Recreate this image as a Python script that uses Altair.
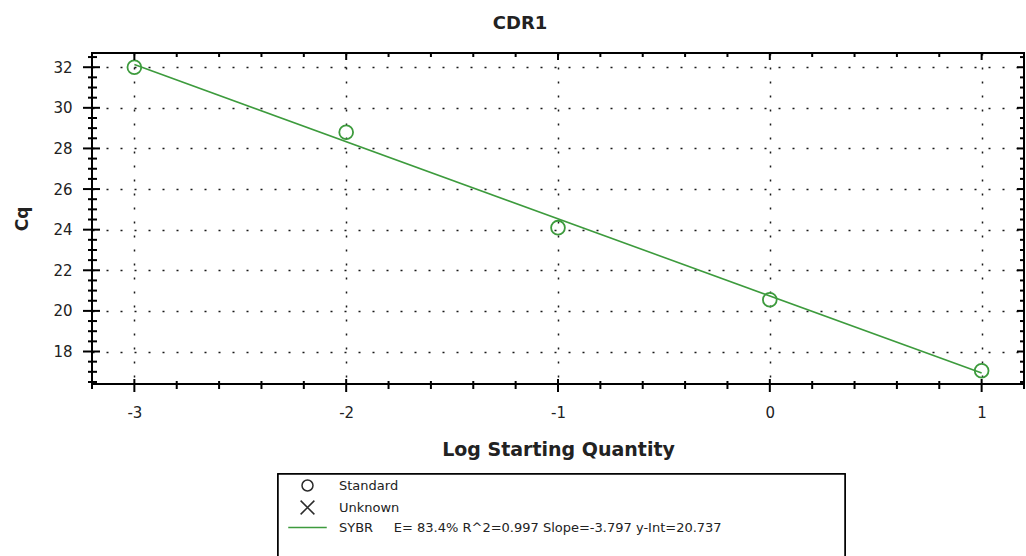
import altair as alt
import pandas as pd

# Standard curve: log starting quantity vs. quantification cycle
log_quantity = [-3, -2, -1, 0, 1]
cq_values = [32.0, 28.8, 24.1, 20.55, 17.05]

# Regression reported for the SYBR run
fit_slope = -3.797
fit_intercept = 20.737
fit_efficiency = 83.4
fit_r2 = 0.997
fit_range = [-3, 1]

# Axis tick positions
x_major = [-3, -2, -1, 0, 1]
x_minor = [-3.2, -2.8, -2.6, -2.4, -2.2, -1.8, -1.6, -1.4, -1.2,
           -0.8, -0.6, -0.4, -0.2, 0.2, 0.4, 0.6, 0.8, 1.2]
y_major = [18, 20, 22, 24, 26, 28, 30, 32]
y_minor = [16.5, 17, 17.5, 18.5, 19, 19.5, 20.5, 21, 21.5, 22.5, 23, 23.5,
           24.5, 25, 25.5, 26.5, 27, 27.5, 28.5, 29, 29.5, 30.5, 31, 31.5, 32.5]

legend_labels = [
    "Standard",
    "Unknown",
    "SYBR\u00a0\u00a0\u00a0\u00a0\u00a0E= %.1f%% R^2=%.3f Slope=%.3f y-Int=%.3f"
    % (fit_efficiency, fit_r2, fit_slope, fit_intercept),
]
legend_shapes = ["circle", "M-1.25,-1.25L1.25,1.25M-1.25,1.25L1.25,-1.25",
                 "M-3.5,0L3.5,0"]
legend_colors = ["#2b2b2b", "#2b2b2b", "#3d9b3d"]

GREEN = "#3d9b3d"
FONT = "DejaVu Sans"
TEXT = "#222222"
W, H = 932, 331
XDOM = [-3.2, 1.2]
YDOM = [16.4, 32.7]

points = pd.DataFrame({"lq": log_quantity, "cq": cq_values})
fit = pd.DataFrame({"lq": fit_range,
                    "cq": [fit_intercept + fit_slope * v for v in fit_range]})
legend_df = pd.DataFrame({"entry": legend_labels,
                          "lq": [-3] * 3, "cq": [32] * 3})

xs = alt.Scale(domain=XDOM, nice=False, zero=False)
ys = alt.Scale(domain=YDOM, nice=False, zero=False)

grid_style = dict(grid=True, gridColor="#000000", gridDash=[2, 12],
                  gridWidth=1.5, gridOpacity=0.9)
x_axis = alt.Axis(values=x_major, labelExpr="'' + datum.value", ticks=False,
                  domain=False, labelPadding=21,
                  labelFontSize=15, labelFont=FONT, labelColor=TEXT,
                  title="Log Starting Quantity", titleFont=FONT,
                  titleFontSize=19, titleFontWeight="bold", titlePadding=20,
                  titleColor=TEXT, **grid_style)
y_axis = alt.Axis(values=y_major, labelExpr="'' + datum.value", ticks=False,
                  domain=False, labelPadding=20,
                  labelFontSize=15, labelFont=FONT, labelColor=TEXT,
                  title="Cq", titleFont=FONT, titleFontSize=17,
                  titleFontWeight="bold", titlePadding=21, titleColor=TEXT,
                  **grid_style)

fit_line = alt.Chart(fit).mark_line(color=GREEN, strokeWidth=1.6).encode(
    x=alt.X("lq:Q", scale=xs, axis=x_axis),
    y=alt.Y("cq:Q", scale=ys, axis=y_axis))

std_points = alt.Chart(points).mark_point(
    filled=False, color=GREEN, size=190, strokeWidth=1.8, opacity=1
).encode(x="lq:Q", y="cq:Q")

# Legend frame
legend_box = alt.Chart(legend_df).mark_rect(
    fill="#ffffff", stroke="#000000", strokeWidth=1.5
).encode(x=alt.value(186), x2=alt.value(753), y=alt.value(421),
         y2=alt.value(530))

leg = alt.Legend(title=None, orient="none", legendX=186, legendY=419,
                 padding=7, labelFont=FONT, labelFontSize=13, labelColor=TEXT,
                 labelLimit=900, symbolSize=121, symbolStrokeWidth=1.5,
                 symbolOpacity=1, symbolFillColor="transparent",
                 rowPadding=3, labelOffset=25, symbolOffset=16)

legend_layer = alt.Chart(legend_df).mark_point(filled=False, opacity=0).encode(
    x="lq:Q", y="cq:Q",
    shape=alt.Shape("entry:N", scale=alt.Scale(domain=legend_labels,
                                               range=legend_shapes), legend=leg),
    color=alt.Color("entry:N", scale=alt.Scale(domain=legend_labels,
                                               range=legend_colors), legend=leg),
)

# Tick marks crossing the frame, drawn through the data scales
xmaj_df = pd.DataFrame({"lq": x_major})
xmin_df = pd.DataFrame({"lq": x_minor})
ymaj_df = pd.DataFrame({"cq": y_major})
ymin_df = pd.DataFrame({"cq": y_minor})

tick_style = dict(color="#000000", strokeWidth=2)
bottom_major = alt.Chart(xmaj_df).mark_rule(**tick_style).encode(
    x="lq:Q", y=alt.value(H - 5), y2=alt.value(H + 8))
bottom_minor = alt.Chart(xmin_df).mark_rule(**tick_style).encode(
    x="lq:Q", y=alt.value(H - 3), y2=alt.value(H + 5))
top_major = alt.Chart(xmaj_df).mark_rule(**tick_style).encode(
    x="lq:Q", y=alt.value(0), y2=alt.value(7))
top_minor = alt.Chart(xmin_df).mark_rule(**tick_style).encode(
    x="lq:Q", y=alt.value(0), y2=alt.value(4))
left_major = alt.Chart(ymaj_df).mark_rule(**tick_style).encode(
    y="cq:Q", x=alt.value(-9), x2=alt.value(8))
left_minor = alt.Chart(ymin_df).mark_rule(**tick_style).encode(
    y="cq:Q", x=alt.value(-4), x2=alt.value(5))
right_major = alt.Chart(ymaj_df).mark_rule(**tick_style).encode(
    y="cq:Q", x=alt.value(W - 7), x2=alt.value(W))
right_minor = alt.Chart(ymin_df).mark_rule(**tick_style).encode(
    y="cq:Q", x=alt.value(W - 4), x2=alt.value(W))

chart = alt.layer(
    fit_line, std_points, legend_box, legend_layer,
    bottom_major, bottom_minor, top_major, top_minor,
    left_major, left_minor, right_major, right_minor,
).properties(
    width=W, height=H,
    title=alt.TitleParams("CDR1", font=FONT, fontSize=18, fontWeight="bold",
                          color=TEXT, anchor="middle", offset=19, dx=-38),
    autosize=alt.AutoSizeParams(type="none"),
    padding={"left": 92, "top": 53, "right": 2, "bottom": 172},
).configure(
    background="#ffffff"
).configure_view(
    stroke="#000000", strokeWidth=2
)

chart.save("out.html", embed_options={"renderer": "svg", "actions": False})
